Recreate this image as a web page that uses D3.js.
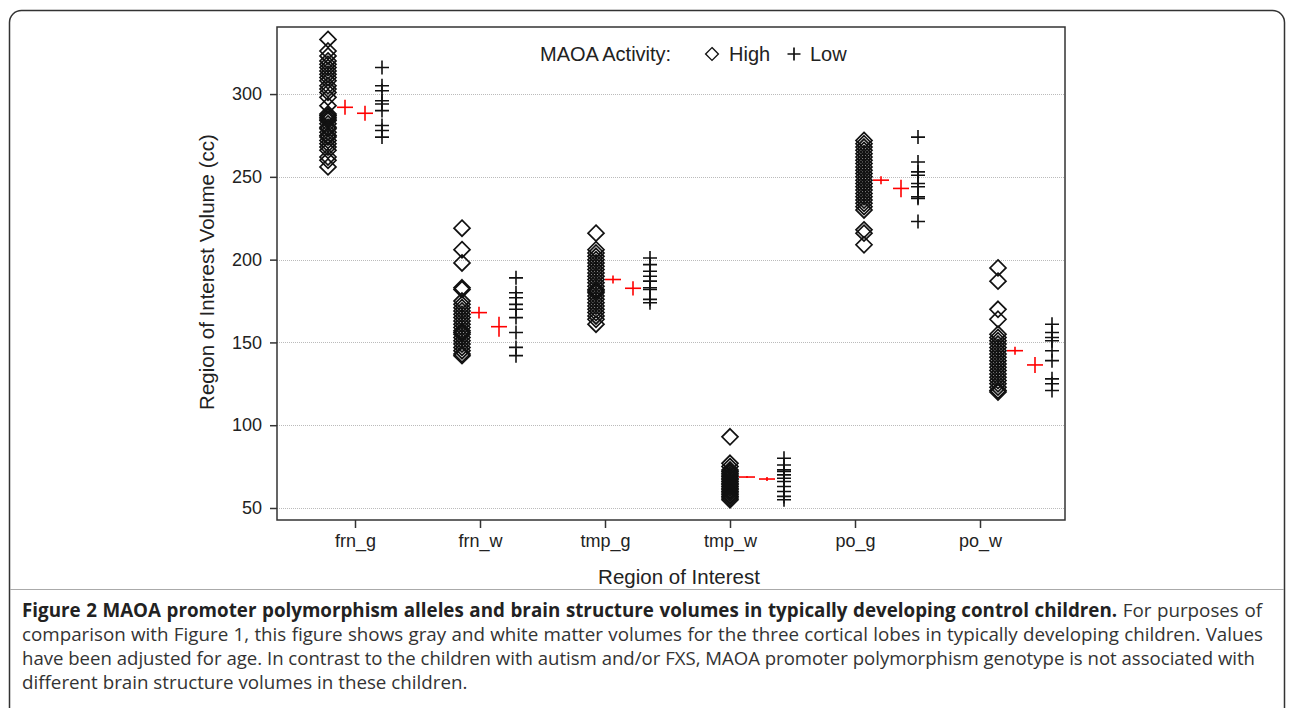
<!DOCTYPE html>
<html><head><meta charset="utf-8">
<script src="https://cdn.jsdelivr.net/npm/d3@7"></script>
<style>
body{margin:0;background:#fff;}
svg{display:block;font-family:"Liberation Sans",Arial,sans-serif;}
.cap{font-family:"Open Sans","Noto Sans",sans-serif;font-size:17px;fill:#333;}
</style></head>
<body><svg id="chart" width="1292" height="708"></svg>
<script>
const categories = ["frn_g","frn_w","tmp_g","tmp_w","po_g","po_w"];
const yTicks = [50,100,150,200,250,300];
const highValues = [
  [333,326,323,320,318,316,314,312,310,308,305,303,301,298,293,288,287,286,285,284,282,280,279,277,275,274,272,270,268,266,262,260,256],
  [219,206,198,183,182,175,173,171,169,167,165,163,161,159,157,156,155,153,151,149,147,145,143,142],
  [216,206,204,202,200,198,196,194,192,190,188,186,184,182,181,180,178,176,174,172,170,168,166,164,161],
  [93,77,75,73,72,71,70,69,68,67,66,65,64,63,62,61,60,59,58,57,56,55],
  [272,270,268,266,264,262,260,258,256,254,252,250,248,246,244,242,240,238,236,234,232,230,218,216,209],
  [195,187,170,164,155,153,151,149,147,145,143,141,139,137,135,133,131,129,127,125,123,121,120]
];
const lowValues = [
  [316,305,302,296,294,290,281,278,274],
  [189,180,177,173,170,165,156,147,142],
  [201,197,193,190,187,183,182,176,174],
  [80,76,73,72,70,68,66,63,60,57,55],
  [274,259,253,251,246,244,238,237,223],
  [161,156,153,151,145,139,128,125,121]
];
const highMean = [292,168,188,68.7,248,145];
const highSE = [4.5,3.6,2.4,0.6,2.4,2.4];
const lowMean = [288.4,159.5,182.7,67.5,243,136.4];
const lowSE = [4.5,6,4.3,1.2,5.3,4.8];
const legendTitle = "MAOA Activity:";
const legendItems = ["High","Low"];
const xTitle = "Region of Interest";
const yTitle = "Region of Interest Volume (cc)";
const captionBold = "Figure 2 MAOA promoter polymorphism alleles and brain structure volumes in typically developing control children.";
const captionLines = [
  " For purposes of",
  "comparison with Figure 1, this figure shows gray and white matter volumes for the three cortical lobes in typically developing children. Values",
  "have been adjusted for age. In contrast to the children with autism and/or FXS, MAOA promoter polymorphism genotype is not associated with",
  "different brain structure volumes in these children."
];

const svg = d3.select("#chart");
const L = 277, R = 1065, T = 27, B = 520;

// outer frame
svg.append("rect").attr("x",9.5).attr("y",10.5).attr("width",1275).attr("height",760)
  .attr("rx",12).attr("fill","none").attr("stroke","#333").attr("stroke-width",1.5);
svg.append("line").attr("x1",10).attr("x2",1284).attr("y1",589.5).attr("y2",589.5)
  .attr("stroke","#aaa").attr("stroke-width",1);

const y = d3.scaleLinear().domain([42.75,340.5]).range([B,T]);
const xAxisScale = d3.scalePoint().domain(categories).range([355,980]);
const xCluster = d3.scalePoint().domain(categories).range([355,1025]);

// grid
svg.append("g").selectAll("line").data(yTicks).join("line")
  .attr("x1",L).attr("x2",R).attr("y1",d=>Math.round(y(d))+0.5).attr("y2",d=>Math.round(y(d))+0.5)
  .attr("stroke","#bbb").attr("stroke-width",1).attr("stroke-dasharray","1,1");

// axes
const yAxis = svg.append("g").attr("transform",`translate(${L},0)`)
  .call(d3.axisLeft(y).tickValues(yTicks).tickSize(7).tickPadding(8));
const xAxis = svg.append("g").attr("transform",`translate(0,${B})`)
  .call(d3.axisBottom(xAxisScale).tickSize(8).tickPadding(6));
[yAxis,xAxis].forEach(a=>{
  a.select(".domain").remove();
  a.selectAll(".tick line").attr("stroke","#333").attr("stroke-width",1.5);
  a.selectAll("text").attr("font-size",18).attr("fill","#222").attr("font-family","Liberation Sans, Arial, sans-serif");
});
svg.append("rect").attr("x",L).attr("y",T).attr("width",R-L).attr("height",B-T)
  .attr("fill","none").attr("stroke","#333").attr("stroke-width",1.5);

// titles
svg.append("text").attr("x",679).attr("y",584).attr("text-anchor","middle")
  .attr("font-size",20.5).attr("fill","#222").text(xTitle);
svg.append("text").attr("transform","translate(214,272) rotate(-90)").attr("text-anchor","middle")
  .attr("font-size",20.5).attr("fill","#222").text(yTitle);

// legend
svg.append("text").attr("x",540).attr("y",61).attr("font-size",20).attr("fill","#222").text(legendTitle);
const diamondPath = "M0,-8L8,0L0,8L-8,0Z";
svg.append("path").attr("d",diamondPath).attr("transform","translate(712,54) scale(0.8)")
  .attr("fill","none").attr("stroke","#111").attr("stroke-width",1.7);
svg.append("text").attr("x",729).attr("y",61).attr("font-size",20).attr("fill","#222").text(legendItems[0]);
svg.append("path").attr("d","M-6.5,0H6.5M0,-6.5V6.5").attr("transform","translate(794,54)")
  .attr("stroke","#111").attr("stroke-width",1.7);
svg.append("text").attr("x",810).attr("y",61).attr("font-size",20).attr("fill","#222").text(legendItems[1]);

// data marks
const plot = svg.append("g");
categories.forEach((c,i)=>{
  const cx = xCluster(c);
  plot.append("g").selectAll("path").data(highValues[i]).join("path")
    .attr("d",diamondPath).attr("transform",d=>`translate(${cx-27},${y(d)})`)
    .attr("fill","none").attr("stroke","#111").attr("stroke-width",1.7);
  plot.append("g").selectAll("path").data(lowValues[i]).join("path")
    .attr("d","M-7,0H7M0,-7V7").attr("transform",d=>`translate(${cx+27},${y(d)})`)
    .attr("stroke","#111").attr("stroke-width",1.6);
  const means = [[cx-10,highMean[i],highSE[i]],[cx+10,lowMean[i],lowSE[i]]];
  means.forEach(([mx,m,se])=>{
    plot.append("line").attr("x1",mx-8).attr("x2",mx+8).attr("y1",y(m)).attr("y2",y(m))
      .attr("stroke","#f00").attr("stroke-width",1.6);
    plot.append("line").attr("x1",mx).attr("x2",mx).attr("y1",y(m-se)).attr("y2",y(m+se))
      .attr("stroke","#f00").attr("stroke-width",1.6);
  });
});

// caption: fit font size to the longest line, then justify
const cap = svg.append("g");
const l2 = cap.append("text").attr("class","cap").attr("x",22).attr("y",641).text(captionLines[1]);
const w17 = l2.node().getComputedTextLength();
const fs = Math.min(19, 17 * 1232 / w17);
cap.style("font-size", fs + "px");
function justify(t, target){
  t.style("font-size", fs + "px");
  const w = t.node().getComputedTextLength();
  const n = (t.text().match(/ /g)||[]).length;
  if (w > target) t.attr("textLength", target).attr("lengthAdjust","spacingAndGlyphs");
  else if (n>0) t.attr("word-spacing", (target-w)/n);
}
const l1 = cap.append("text").attr("class","cap").attr("x",22).attr("y",617);
l1.append("tspan").attr("font-weight","bold").attr("fill","#222").text(captionBold);
l1.append("tspan").text(captionLines[0]);
justify(l1,1240);
justify(l2,1241);
justify(cap.append("text").attr("class","cap").attr("x",22).attr("y",665).text(captionLines[2]),1233);
cap.append("text").attr("class","cap").attr("x",22).attr("y",689).style("font-size", fs + "px").text(captionLines[3]);
</script></body></html>
